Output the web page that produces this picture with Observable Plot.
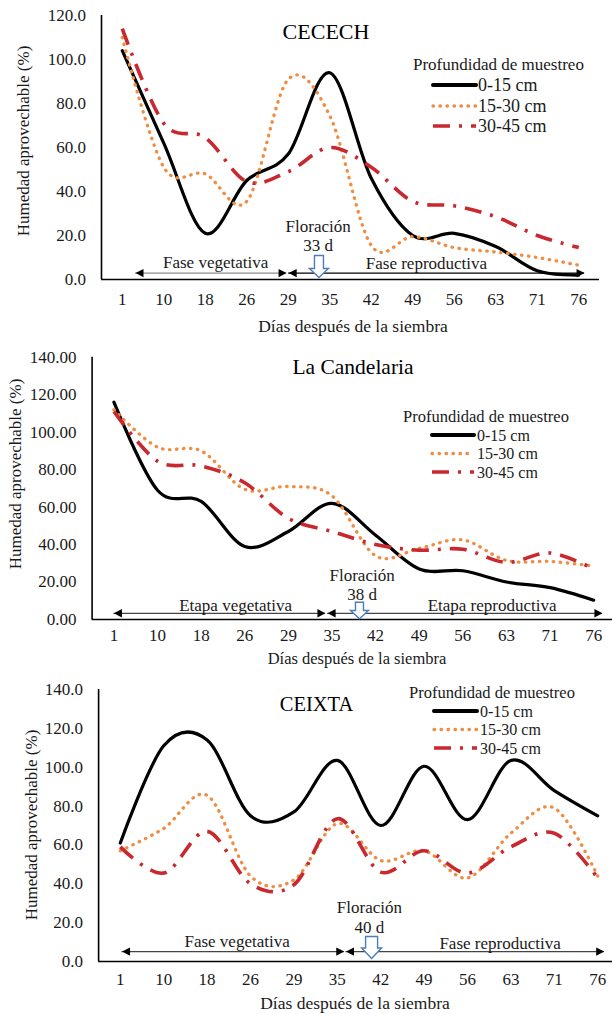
<!DOCTYPE html>
<html><head><meta charset="utf-8">
<script src="https://cdn.jsdelivr.net/npm/d3@7"></script>
<script src="https://cdn.jsdelivr.net/npm/@observablehq/plot@0.6"></script>
<style>
html,body{margin:0;padding:0;background:#fff;overflow:hidden;}
#wrap{width:612px;height:1014px;}
svg{display:block;}
svg, svg text{font-family:"Liberation Serif","Times New Roman",serif !important;}
</style></head><body><div id="wrap"></div>
<script>
// ---- Data ----
const days = ["1","10","18","26","29","35","42","49","56","63","71","76"];
const depths = ["0-15 cm","15-30 cm","30-45 cm"];
const legendTitle = "Profundidad de muestreo";
const yTitle = "Humedad aprovechable (%)";
const xTitle = "Días después de la siembra";

// CECECH
const cecech0_15  = [104, 62, 21, 45, 57, 94, 46, 20, 21, 15, 4, 2];
const cecech15_30 = [110, 51, 48, 35.5, 91, 74.5, 15.5, 19.5, 14.5, 12.5, 10, 6.5];
const cecech30_45 = [114, 71, 64.5, 44.5, 49, 60, 51, 35.5, 33.5, 28.5, 20, 14.5];
// La Candelaria
const cand0_15  = [116, 69, 63, 39, 47, 62, 45, 27, 26, 20, 17, 10.3];
const cand15_30 = [112, 92, 90, 69.5, 71, 66, 34, 38, 42.5, 31.5, 31, 28.5];
const cand30_45 = [111, 84.5, 82, 73, 54, 47, 40, 37, 37.5, 30.5, 35.5, 27];
// CEIXTA
const ceixta0_15  = [61, 111, 114, 75, 77, 103.5, 70, 100.5, 73, 103.5, 88, 75];
const ceixta15_30 = [57, 68.5, 85.5, 44, 42, 71, 52, 57, 43, 66, 79, 44];
const ceixta30_45 = [59, 45.5, 67, 40, 39.5, 73.5, 46, 57, 45.5, 59, 66, 43];

const titles = ["CECECH", "La Candelaria", "CEIXTA"];
const floweringDays = ["33 d", "38 d", "40 d"];
const phaseLabels = [
  ["Fase vegetativa", "Fase reproductiva"],
  ["Etapa vegetativa", "Etapa reproductiva"],
  ["Fase vegetativa", "Fase reproductiva"]
];

// ---- Styles ----
const FONT = "Liberation Serif";
const seriesStyle = [
  {stroke: "#000000", strokeWidth: 3.2, strokeDasharray: null, strokeLinecap: "round"},
  {stroke: "#EE8E44", strokeWidth: 3.3, strokeDasharray: "0.5 6.5", strokeLinecap: "round"},
  {stroke: "#C8282E", strokeWidth: 3.6, strokeDasharray: "17 9 3 9", strokeLinecap: "butt"}
];

const headRight = {draw(ctx){ ctx.moveTo(0,0); ctx.lineTo(-8,-4.2); ctx.lineTo(-8,4.2); ctx.closePath(); }};
const headLeft  = {draw(ctx){ ctx.moveTo(0,0); ctx.lineTo(8,-4.2); ctx.lineTo(8,4.2); ctx.closePath(); }};
function blockArrow(h, sw, hw, frac) {
  return {draw(ctx){
    const t = -h/2, b = h/2, hs = t + h*frac;
    ctx.moveTo(-sw/2, t); ctx.lineTo(sw/2, t); ctx.lineTo(sw/2, hs); ctx.lineTo(hw/2, hs);
    ctx.lineTo(0, b); ctx.lineTo(-hw/2, hs); ctx.lineTo(-sw/2, hs); ctx.closePath();
  }};
}

const panels = [
  { series: [cecech0_15, cecech15_30, cecech30_45], yMax: 120, dec: 1,
    height: 338, mt: 15, mb: 59, xr: [101, 599], mr: 13, tickPad: 13,
    phases: [{s: 0.32, e: 3.96, lx: 2.25, ly: 7.9, color: "#8c8c8c"}, {s: 4.01, e: 11.14, lx: 7.33, ly: 7.1, color: "#000"}],
    arrowY: 2.9, flower: {x: 4.72, y1: 24.1, y2: 15.5, ax: 4.74, ay: 5.9, shape: blockArrow(22, 9, 19, 0.59)},
    title: {x: 326, y: 31, size: 22},
    yT: {x: 23, y: 141}, xT: {x: 353, y: 326, size: 17.5},
    legend: {hx: 413, hy: 64, hsize: 17, ys: [85, 106, 126], lx1: 433, lx2: 476, tx: 478, size: 18}
  },
  { series: [cand0_15, cand15_30, cand30_45], yMax: 140, dec: 2,
    height: 330, mt: 18.7, mb: 49, xr: [91.6, 615], mr: 0, tickPad: 9,
    phases: [{s: 0, e: 4.85, lx: 2.79, ly: 7.5, color: "#444"}, {s: 4.9, e: 11.2, lx: 8.67, ly: 7.5, color: "#444"}],
    arrowY: 3.3, flower: {x: 5.69, y1: 23.5, y2: 13.3, ax: 5.63, ay: 4.8, shape: blockArrow(16.6, 8, 18, 0.5)},
    title: {x: 353, y: 29, size: 21.5},
    yT: {x: 15, y: 136}, xT: {x: 357, y: 320, size: 16.5},
    legend: {hx: 403, hy: 78, hsize: 16.5, ys: [97, 115.5, 134], lx1: 432, lx2: 474, tx: 477, size: 16}
  },
  { series: [ceixta0_15, ceixta15_30, ceixta30_45], yMax: 140, dec: 1,
    height: 346, mt: 21, mb: 53, xr: [98.1, 618.9], mr: 0, tickPad: 11,
    phases: [{s: 0.04, e: 5.16, lx: 2.69, ly: 10.4, color: "#444"}, {s: 5.2, e: 11.15, lx: 8.75, ly: 9.4, color: "#444"}],
    arrowY: 5.1, flower: {x: 5.74, y1: 27.8, y2: 17.5, ax: 5.79, ay: 7.2, shape: blockArrow(22, 12, 20, 0.52)},
    title: {x: 316.5, y: 36, size: 20.5},
    yT: {x: 31, y: 157}, xT: {x: 355, y: 335, size: 17.5},
    legend: {hx: 409, hy: 24, hsize: 16.5, ys: [43, 61.5, 80], lx1: 434, lx2: 477, tx: 480, size: 16}
  }
];

const wrap = document.getElementById("wrap");

panels.forEach((cfg, p) => {
  const yTicks = d3.range(0, cfg.yMax + 1, 20);
  const lineMarks = cfg.series.map((vals, k) =>
    Plot.line(vals.map((v, i) => ({i, v, depth: depths[k]})), {
      x: "i", y: "v", curve: "cardinal", tension: 0,
      ...Object.fromEntries(Object.entries(seriesStyle[k]).filter(([, v]) => v != null))
    })
  );
  const ph = cfg.phases.map((d, j) => ({...d, label: phaseLabels[p][j], y: cfg.arrowY}));
  const txt = {fontFamily: FONT, fill: "#1a1a1a"};
  const svg = Plot.plot({
    width: 612, height: cfg.height,
    marginTop: cfg.mt, marginBottom: cfg.mb, marginLeft: cfg.xr[0], marginRight: cfg.mr,
    x: {domain: [-0.5, 11.5], range: cfg.xr},
    y: {domain: [0, cfg.yMax]},
    style: {background: "#fff", color: "#000", overflow: "hidden"},
    marks: [
      Plot.axisX(d3.range(12), {tickSize: 0, tickPadding: cfg.tickPad, tickFormat: i => days[i], fontSize: 17, label: null, ...txt}),
      Plot.axisY(yTicks, {tickSize: 0, tickPadding: 15.5, tickFormat: d => d.toFixed(cfg.dec), fontSize: 17, label: null, ...txt}),
      Plot.ruleX([-0.5], {stroke: "#000", strokeWidth: 1.6}),
      Plot.ruleY([0], {stroke: "#000", strokeWidth: 1.6}),
      // phase arrows
      Plot.ruleY(ph, {y: "y", x1: "s", x2: "e", stroke: "color", strokeWidth: 1.2}),
      Plot.dot(ph, {x: "s", y: "y", symbol: headLeft, fill: "#000", stroke: "none"}),
      Plot.dot(ph, {x: "e", y: "y", symbol: headRight, fill: "#000", stroke: "none"}),
      Plot.text(ph, {x: "lx", y: "ly", text: "label", fontSize: 17, ...txt}),
      // flowering
      Plot.text([cfg.flower], {x: "x", y: "y1", text: () => "Floración", fontSize: 17, ...txt}),
      Plot.text([cfg.flower], {x: "x", y: "y2", text: () => floweringDays[p], fontSize: 17, ...txt}),
      Plot.dot([cfg.flower], {x: "ax", y: "ay", symbol: cfg.flower.shape, fill: "#fff", stroke: "#4A7EBB", strokeWidth: 1.4}),
      ...lineMarks
    ]
  });

  const s = d3.select(svg).attr("font-family", FONT);
  // title
  s.append("text").attr("x", cfg.title.x).attr("y", cfg.title.y)
    .attr("text-anchor", "middle").attr("dominant-baseline", "central").attr("font-family", FONT)
    .attr("font-size", cfg.title.size).attr("fill", "#000").text(titles[p]);
  // axis titles
  s.append("text").attr("transform", `translate(${cfg.yT.x},${cfg.yT.y}) rotate(-90)`)
    .attr("text-anchor", "middle").attr("dominant-baseline", "central").attr("font-family", FONT)
    .attr("font-size", 17).attr("fill", "#1a1a1a").text(yTitle);
  s.append("text").attr("x", cfg.xT.x).attr("y", cfg.xT.y)
    .attr("text-anchor", "middle").attr("dominant-baseline", "central").attr("font-family", FONT)
    .attr("font-size", cfg.xT.size).attr("fill", "#1a1a1a").text(xTitle);
  // legend
  const lg = cfg.legend;
  s.append("text").attr("x", lg.hx).attr("y", lg.hy).attr("text-anchor", "start").attr("font-family", FONT)
    .attr("dominant-baseline", "central").attr("font-size", lg.hsize).attr("fill", "#1a1a1a").text(legendTitle);
  depths.forEach((d, k) => {
    const st = seriesStyle[k];
    s.append("line").attr("x1", lg.lx1).attr("x2", lg.lx2).attr("y1", lg.ys[k]).attr("y2", lg.ys[k])
      .attr("stroke", st.stroke).attr("stroke-width", k === 0 ? 4 : st.strokeWidth)
      .attr("stroke-dasharray", st.strokeDasharray).attr("stroke-linecap", st.strokeLinecap);
    s.append("text").attr("x", lg.tx).attr("y", lg.ys[k]).attr("text-anchor", "start").attr("font-family", FONT)
      .attr("dominant-baseline", "central").attr("font-size", lg.size).attr("fill", "#1a1a1a").text(d);
  });
  wrap.appendChild(svg);
});
</script>
</body></html>
